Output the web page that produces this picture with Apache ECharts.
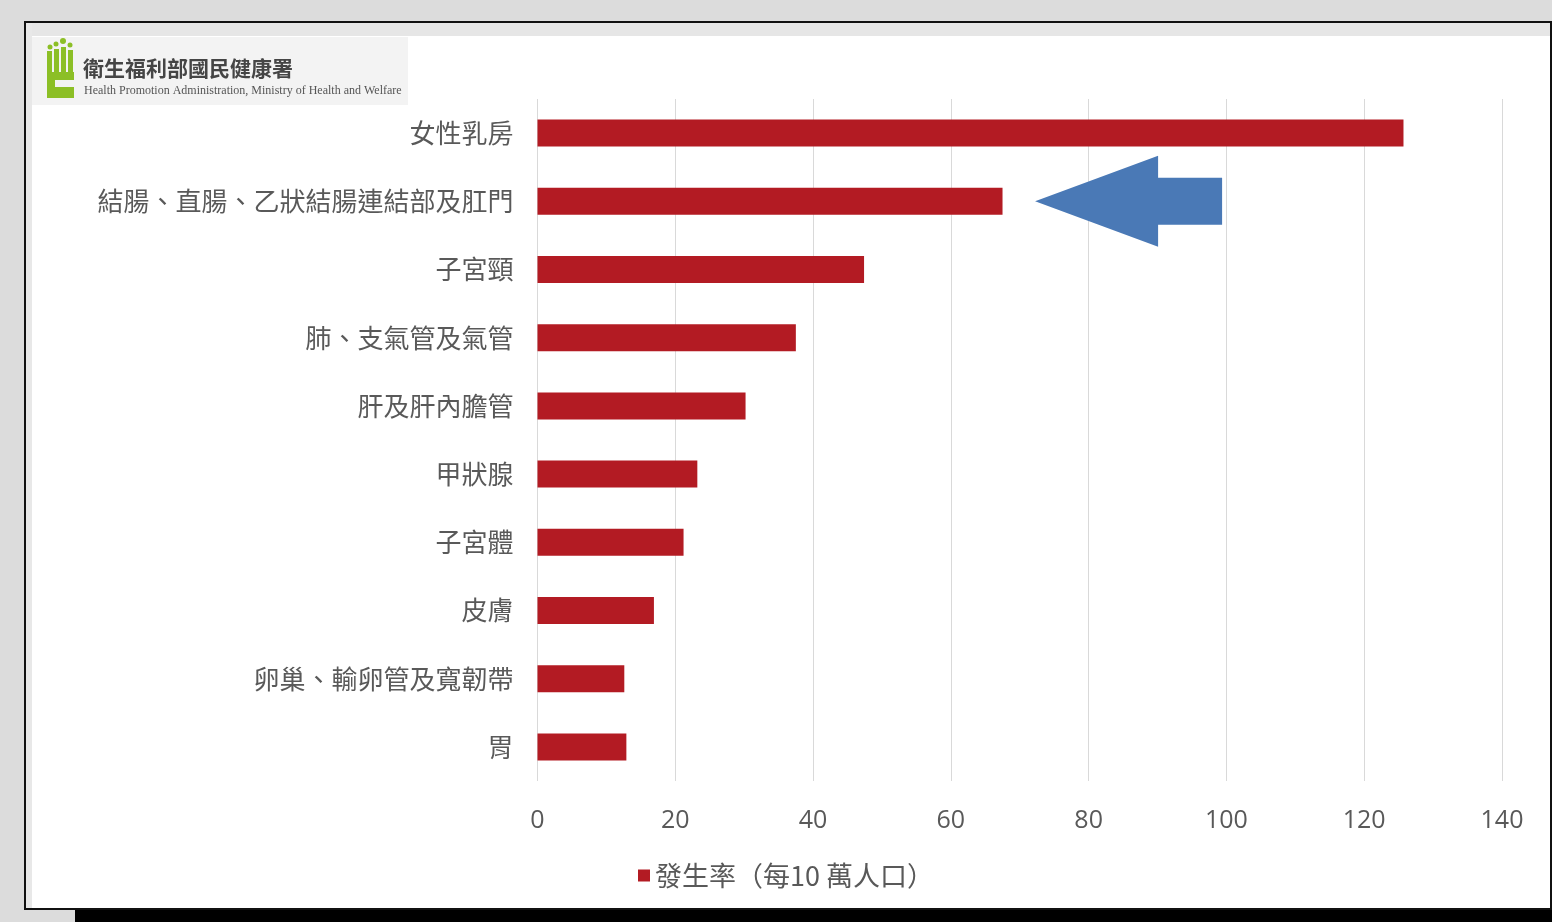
<!DOCTYPE html>
<html>
<head>
<meta charset="utf-8">
<script src="https://cdn.jsdelivr.net/npm/echarts@6/dist/echarts.min.js"></script>
<style>
  html, body { margin: 0; padding: 0; background: #dcdcdc; }
  #chart { width: 1552px; height: 922px; }
</style>
</head>
<body>
<div id="chart"></div>
<script>
const categories = [
  '女性乳房',
  '結腸、直腸、乙狀結腸連結部及肛門',
  '子宮頸',
  '肺、支氣管及氣管',
  '肝及肝內膽管',
  '甲狀腺',
  '子宮體',
  '皮膚',
  '卵巢、輸卵管及寬韌帶',
  '胃',
]
const incidence = [125.7, 67.5, 47.4, 37.5, 30.2, 23.2, 21.2, 16.9, 12.6, 12.9]
const seriesName = '發生率（每10 萬人口）'
const logoTitle = '衛生福利部國民健康署'
const logoSubtitle = 'Health Promotion Administration, Ministry of Health and Welfare'

const barColor = '#b31b23'
const textColor = '#595959'
const lime = '#8cbf26'
const cjkFont = '"Noto Sans CJK TC", "Noto Sans CJK SC", sans-serif'

const chart = echarts.init(document.getElementById('chart'))

chart.setOption({
  backgroundColor: '#dcdcdc',
  animation: false,
  graphic: [
    // frame shadow + frame
    { type: 'rect', z: -20, shape: { x: 75, y: 910, width: 1477, height: 12 }, style: { fill: '#000' } },
    { type: 'rect', z: -19, shape: { x: 25, y: 22, width: 1526, height: 887 }, style: { fill: '#fff', stroke: '#111', lineWidth: 2 } },
    { type: 'rect', z: -18, shape: { x: 26, y: 23, width: 1524, height: 13 }, style: { fill: '#e6e6e6' } },
    { type: 'rect', z: -18, shape: { x: 26, y: 23, width: 6, height: 885 }, style: { fill: '#e8e8e8' } },
    // logo
    { type: 'rect', z: 5, shape: { x: 32, y: 37, width: 376, height: 68 }, style: { fill: '#f3f3f3' } },
    { type: 'circle', z: 6, shape: { cx: 50, cy: 47, r: 2.5 }, style: { fill: lime } },
    { type: 'circle', z: 6, shape: { cx: 56, cy: 44, r: 2.5 }, style: { fill: lime } },
    { type: 'circle', z: 6, shape: { cx: 63, cy: 41, r: 3 }, style: { fill: lime } },
    { type: 'circle', z: 6, shape: { cx: 70, cy: 45, r: 2.5 }, style: { fill: lime } },
    { type: 'rect', z: 6, shape: { x: 47, y: 51, width: 5, height: 22 }, style: { fill: lime } },
    { type: 'rect', z: 6, shape: { x: 54, y: 49, width: 5, height: 24 }, style: { fill: lime } },
    { type: 'rect', z: 6, shape: { x: 61, y: 47, width: 5, height: 26 }, style: { fill: lime } },
    { type: 'rect', z: 6, shape: { x: 68, y: 50, width: 5, height: 23 }, style: { fill: lime } },
    { type: 'rect', z: 6, shape: { x: 47, y: 72, width: 27, height: 26 }, style: { fill: lime } },
    { type: 'rect', z: 7, shape: { x: 55, y: 80, width: 19, height: 7 }, style: { fill: '#f3f3f3' } },
    {
      type: 'text', z: 6, left: 83, top: 58,
      style: { text: logoTitle, fill: '#454545', font: 'bold 21px "Noto Sans CJK TC", sans-serif' },
    },
    {
      type: 'text', z: 6, left: 84, top: 85,
      style: { text: logoSubtitle, fill: '#555', font: '12px "Liberation Serif", serif' },
    },
  ],
  legend: {
    left: 633,
    top: 857,
    icon: 'rect',
    itemWidth: 12,
    itemHeight: 12,
    itemGap: 10,
    textStyle: { color: textColor, fontSize: 27, fontFamily: cjkFont },
    data: [seriesName],
  },
  grid: {
    left: 537.5,
    right: 50,
    top: 99,
    bottom: 141,
    containLabel: false,
  },
  xAxis: {
    type: 'value',
    min: 0,
    max: 140,
    interval: 20,
    axisLine: { show: false },
    axisTick: { show: false },
    axisLabel: { color: textColor, fontSize: 25, margin: 27, fontFamily: '"Open Sans", sans-serif' },
    splitLine: { lineStyle: { color: '#d9d9d9', width: 1 } },
  },
  yAxis: {
    type: 'category',
    inverse: true,
    data: categories,
    axisLine: { show: false },
    axisTick: { show: false },
    axisLabel: { color: textColor, fontSize: 26, margin: 24, fontFamily: cjkFont },
  },
  series: [
    {
      name: seriesName,
      type: 'bar',
      data: incidence,
      barWidth: 27,
      itemStyle: { color: barColor },
      markPoint: {
        silent: true,
        symbol: 'path://M0,45.5L123,0L123,22L187,22L187,69L123,69L123,91Z',
        symbolSize: [187, 91],
        symbolKeepAspect: false,
        itemStyle: { color: '#4a79b6' },
        label: { show: false },
        data: [{ coord: [85.8, categories[1]] }],
      },
    },
  ],
})
</script>
</body>
</html>
